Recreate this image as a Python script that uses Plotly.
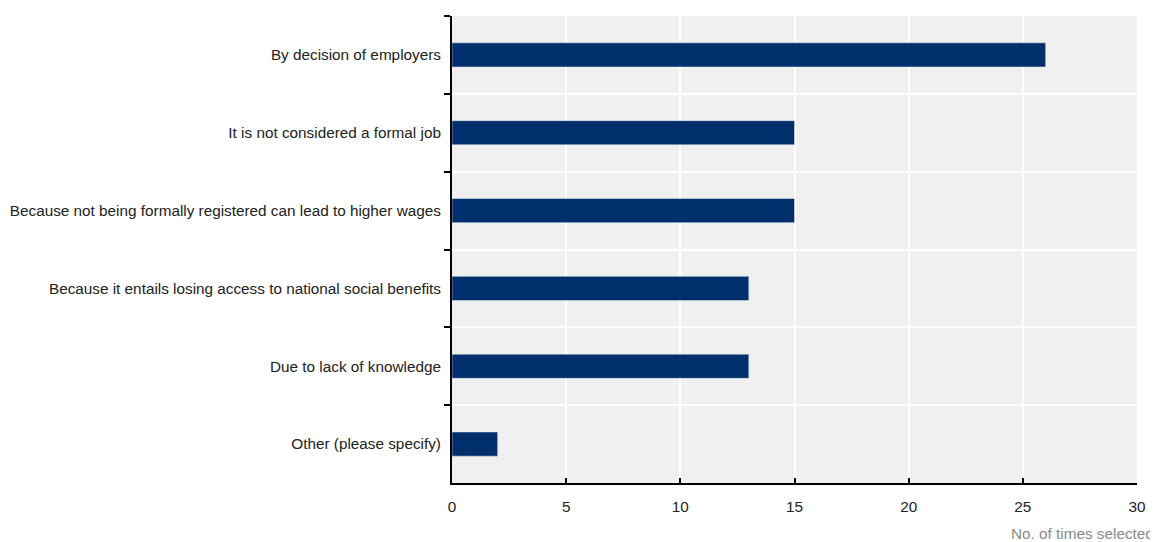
import plotly.graph_objects as go

reasons = [
    'By decision of employers',
    'It is not considered a formal job',
    'Because not being formally registered can lead to higher wages',
    'Because it entails losing access to national social benefits',
    'Due to lack of knowledge',
    'Other (please specify)',
]
times_selected = [26, 15, 15, 13, 13, 2]
x_ticks = [0, 5, 10, 15, 20, 25, 30]

fig = go.Figure()

fig.add_trace(go.Bar(
    x=times_selected,
    y=reasons,
    orientation='h',
    marker_color='#002F6C',
    width=0.31,
    hoverinfo='x+y'
))

# page body has an 8px margin, so margins are shifted by that amount
fig.update_layout(
    width=1158,
    height=542,
    plot_bgcolor='#F0F0F0',
    paper_bgcolor='white',
    font=dict(family='Liberation Sans, Arial, sans-serif', size=15.3, color='#222222'),
    showlegend=False,
    margin=dict(l=444, r=29, t=8, b=67, autoexpand=False),
    xaxis=dict(
        range=[0, 30],
        tickvals=x_ticks,
        automargin=False,
        showgrid=True,
        gridcolor='white',
        gridwidth=2,
        zeroline=False,
        showline=True,
        linecolor='black',
        linewidth=2,
        ticks='inside',
        ticklen=5,
        tickcolor='black',
        tickwidth=2,
        ticklabelstandoff=9,
    ),
    yaxis=dict(
        categoryorder='array',
        categoryarray=reasons,
        autorange='reversed',
        automargin=False,
        tickson='boundaries',
        showgrid=True,
        gridcolor='white',
        gridwidth=2,
        showline=True,
        linecolor='black',
        linewidth=2,
        ticks='outside',
        ticklen=6,
        tickcolor='black',
        tickwidth=2,
        ticklabelstandoff=6,
    ),
    annotations=[dict(
        text='No. of times selected',
        xref='paper', yref='paper',
        x=1.028, y=-0.109,
        xanchor='right', yanchor='middle',
        showarrow=False,
        font=dict(size=15.3, color='#8A8A8A')
    )]
)

fig.write_html("out.html")
